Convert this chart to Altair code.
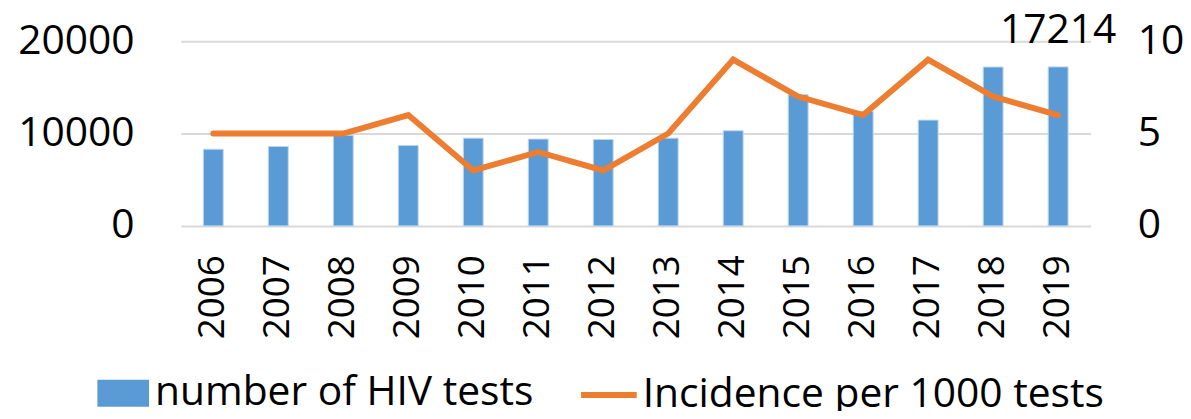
import altair as alt
import pandas as pd

years = ["2006", "2007", "2008", "2009", "2010", "2011", "2012",
         "2013", "2014", "2015", "2016", "2017", "2018", "2019"]
tests = [8300, 8600, 9800, 8700, 9500, 9400, 9350,
         9500, 10300, 14200, 12400, 11450, 17200, 17214]
incidence = [5, 5, 5, 6, 3, 4, 3, 5, 9, 7, 6, 9, 7, 6]
series_names = ["number of HIV tests", "Incidence per 1000 tests"]
label_year = "2019"
left_ticks = [0, 10000, 20000]
right_ticks = [0, 5, 10]

df = pd.DataFrame({
    "year": years,
    "tests": tests,
    "incidence": incidence,
    "s1": series_names[0],
    "s2": series_names[1],
})

FONT = "Open Sans"
BLUE = "#5B9BD5"
ORANGE = "#ED7D31"

base = alt.Chart(df)

x = alt.X("year:N", title=None,
          scale=alt.Scale(paddingInner=0, paddingOuter=0),
          axis=alt.Axis(labelAngle=270, labelFontSize=37, labelFont=FONT,
                        labelColor="black", labelPadding=29, ticks=False,
                        tickSize=0, domain=False, grid=False))

bars = base.mark_bar(size=20, color=BLUE, stroke="#bdd7ee", strokeWidth=1).encode(
    x=x,
    y=alt.Y("tests:Q", title=None,
            scale=alt.Scale(domain=[0, 20000], nice=False),
            axis=alt.Axis(values=left_ticks, format="d", labelFontSize=41,
                          labelFont=FONT, labelColor="black", labelPadding=47,
                          ticks=False, domain=False, grid=True,
                          gridColor="#d9d9d9", gridWidth=2)),
    color=alt.Color("s1:N", scale=alt.Scale(range=[BLUE]),
                    legend=alt.Legend(title=None, orient="none",
                                      legendX=-84, legendY=328.5,
                                      symbolType="M-1,-0.52H1V0.52H-1Z",
                                      symbolSize=2704, symbolStrokeWidth=0,
                                      labelFont=FONT, labelFontSize=41,
                                      labelColor="black", labelOffset=6,
                                      padding=0, labelLimit=600)),
)

label = base.transform_filter(alt.datum.year == label_year).mark_text(
    font=FONT, fontSize=41, color="black", baseline="alphabetic",
    align="center", dy=-24).encode(
    x=x,
    y=alt.Y("tests:Q"),
    text=alt.Text("tests:Q", format="d"),
)

left = alt.layer(bars, label)

line = base.mark_line(color=ORANGE, strokeWidth=6, strokeCap="round").encode(
    x=x,
    y=alt.Y("incidence:Q", title=None,
            scale=alt.Scale(domain=[0, 10], nice=False),
            axis=alt.Axis(orient="right", values=right_ticks, labelFontSize=41,
                          labelFont=FONT, labelColor="black", labelPadding=47,
                          ticks=False, domain=False, grid=False)),
    color=alt.Color("s2:N", scale=alt.Scale(range=[ORANGE]),
                    legend=alt.Legend(title=None, orient="none",
                                      legendX=400, legendY=325.3,
                                      symbolType="stroke", symbolSize=3136,
                                      symbolStrokeWidth=6,
                                      labelFont=FONT, labelFontSize=41,
                                      labelColor="black", labelOffset=3,
                                      padding=0, labelLimit=700)),
)

chart = alt.layer(left, line).resolve_scale(
    y="independent", color="independent"
).properties(
    width=916, height=186,
    autosize=alt.AutoSizeParams(type="none"),
    padding={"left": 174, "top": 32, "right": 93, "bottom": 185},
).configure_view(stroke=None)

chart.save("out.html", embed_options={"renderer": "svg", "actions": False})
